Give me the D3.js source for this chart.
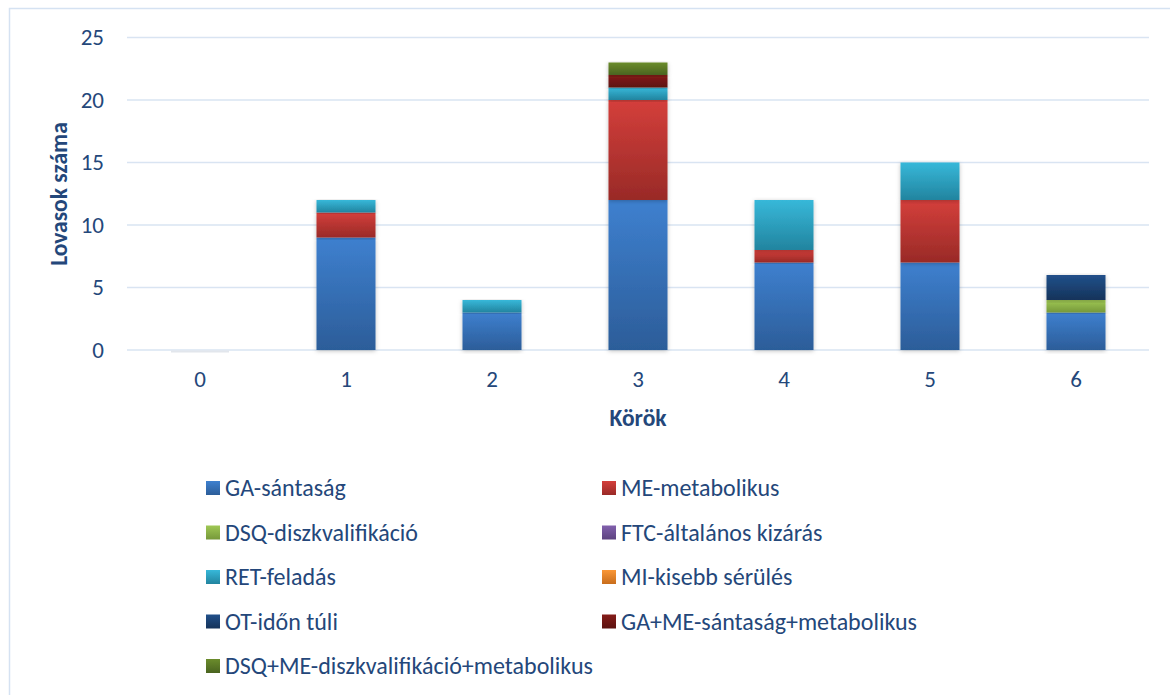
<!DOCTYPE html>
<html>
<head>
<meta charset="utf-8">
<script src="https://cdn.jsdelivr.net/npm/d3@7"></script>
<style>
  body { margin: 0; background: #fff; }
  svg { font-family: Carlito, Calibri, Lato, sans-serif; }
</style>
</head>
<body>
<svg id="chart" width="1170" height="695"></svg>
<script>
const rounds = ["0", "1", "2", "3", "4", "5", "6"]

const seriesNames = ["GA-sántaság", "ME-metabolikus", "DSQ-diszkvalifikáció", "FTC-általános kizárás",
  "RET-feladás", "MI-kisebb sérülés", "OT-időn túli", "GA+ME-sántaság+metabolikus",
  "DSQ+ME-diszkvalifikáció+metabolikus"]

const ga     = [0, 9, 3, 12, 7, 7, 3]
const me     = [0, 2, 0, 8, 1, 5, 0]
const dsq    = [0, 0, 0, 0, 0, 0, 1]
const ftc    = [0, 0, 0, 0, 0, 0, 0]
const ret    = [0, 1, 1, 1, 4, 3, 0]
const mi     = [0, 0, 0, 0, 0, 0, 0]
const ot     = [0, 0, 0, 0, 0, 0, 2]
const gaMe   = [0, 0, 0, 1, 0, 0, 0]
const dsqMe  = [0, 0, 0, 1, 0, 0, 0]

const yTicks = [0, 5, 10, 15, 20, 25]

// top / bottom colour of each gradient
const colors = [
  ["#3e80cf", "#2c5d99"],
  ["#d43f3b", "#992a27"],
  ["#9fc854", "#76983a"],
  ["#8160ad", "#5d437f"],
  ["#37b8d9", "#22849f"],
  ["#fa9736", "#c86d1c"],
  ["#21508a", "#15335a"],
  ["#851c19", "#5c1210"],
  ["#6b8c2c", "#4a6420"]
]

const values = [ga, me, dsq, ftc, ret, mi, ot, gaMe, dsqMe]
const table = rounds.map((r, i) => {
  const row = { round: r }
  seriesNames.forEach((s, j) => row[s] = values[j][i])
  return row
})

const svg = d3.select('#chart')
const textColor = '#24477a'
const fontFam = 'Carlito, Calibri, Lato, sans-serif'

// frame
svg.append('rect')
  .attr('x', 9.5).attr('y', 8.5)
  .attr('width', 1175).attr('height', 700)
  .attr('fill', 'none')
  .attr('stroke', '#d5e2f2')
  .attr('stroke-width', 1.5)

const defs = svg.append('defs')
colors.forEach((c, i) => {
  const g = defs.append('linearGradient')
    .attr('id', 'grad' + i)
    .attr('x1', 0).attr('y1', 0).attr('x2', 0).attr('y2', 1)
  g.append('stop').attr('offset', '0%').attr('stop-color', c[0])
  g.append('stop').attr('offset', '100%').attr('stop-color', c[1])
})
const shadow = defs.append('filter').attr('id', 'shadow')
  .attr('x', '-20%').attr('y', '-5%').attr('width', '140%').attr('height', '115%')
shadow.append('feDropShadow')
  .attr('dx', 0).attr('dy', 1).attr('stdDeviation', 2)
  .attr('flood-color', '#000').attr('flood-opacity', 0.25)

const x = d3.scaleBand()
  .domain(rounds)
  .range([127, 1149])

const y = d3.scaleLinear()
  .domain([0, 25])
  .range([350, 37.5])

// gridlines
svg.append('g')
  .selectAll('line')
  .data(yTicks)
  .join('line')
  .attr('x1', 127).attr('x2', 1149)
  .attr('y1', d => y(d)).attr('y2', d => y(d))
  .attr('stroke', '#d9e4f2')
  .attr('stroke-width', 1.5)

// y axis
const yAxis = svg.append('g')
  .attr('transform', 'translate(127,0)')
  .call(d3.axisLeft(y).tickValues(yTicks).tickSize(0).tickPadding(23))
yAxis.attr('font-family', fontFam)
yAxis.select('.domain').remove()
yAxis.selectAll('text')
  .attr('font-size', 23)
  .attr('fill', textColor)

// x axis
const xAxis = svg.append('g')
  .attr('transform', 'translate(0,350)')
  .call(d3.axisBottom(x).tickSize(0).tickPadding(21))
xAxis.attr('font-family', fontFam)
xAxis.select('.domain').remove()
xAxis.selectAll('text')
  .attr('font-size', 23)
  .attr('fill', textColor)

// faint zero bar at round 0
svg.append('line')
  .attr('x1', x('0') + x.bandwidth() / 2 - 29).attr('x2', x('0') + x.bandwidth() / 2 + 29)
  .attr('y1', y(0) + 1.5).attr('y2', y(0) + 1.5)
  .attr('stroke', '#e2e6ec').attr('stroke-width', 2)

const stack = d3.stack().keys(seriesNames)
const layers = stack(table)
const barW = 59

svg.append('g')
  .selectAll('g')
  .data(layers)
  .join('g')
  .attr('fill', (d, i) => `url(#grad${i})`)
  .selectAll('rect')
  .data(d => d.filter(p => p[1] - p[0] > 0))
  .join('rect')
  .attr('x', d => x(d.data.round) + x.bandwidth() / 2 - barW / 2)
  .attr('y', d => y(d[1]))
  .attr('width', barW)
  .attr('height', d => y(d[0]) - y(d[1]))
  .attr('filter', 'url(#shadow)')

// axis titles
svg.append('text')
  .attr('transform', 'translate(67,194) rotate(-90)')
  .attr('text-anchor', 'middle')
  .attr('font-size', 23.5)
  .attr('font-weight', 'bold')
  .attr('fill', textColor)
  .text('Lovasok száma')

svg.append('text')
  .attr('x', 638).attr('y', 426)
  .attr('text-anchor', 'middle')
  .attr('font-size', 23.5)
  .attr('font-weight', 'bold')
  .attr('fill', textColor)
  .text('Körök')

// legend
const legend = svg.append('g')
  .selectAll('g')
  .data(seriesNames)
  .join('g')
  .attr('transform', (d, i) => `translate(${i % 2 ? 602 : 206},${481 + Math.floor(i / 2) * 44.5})`)

legend.append('rect')
  .attr('width', 14).attr('height', 14)
  .attr('fill', (d, i) => `url(#grad${i})`)

legend.append('text')
  .attr('x', 19).attr('y', 15)
  .attr('font-size', 24)
  .attr('fill', textColor)
  .text(d => d)
</script>
</body>
</html>
